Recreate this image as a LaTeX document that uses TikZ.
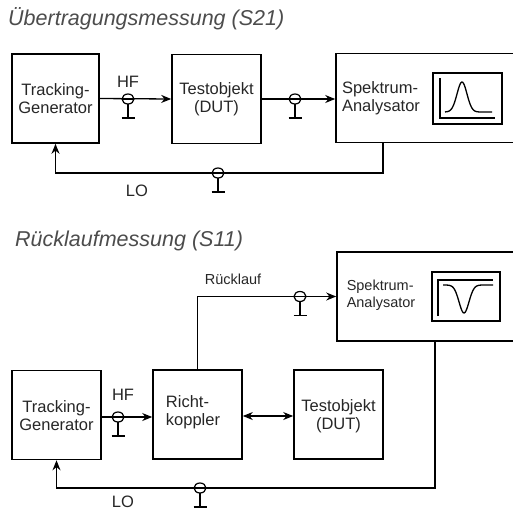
\documentclass[tikz,border=0pt]{standalone}
\usepackage{fontspec}
\setmainfont{Liberation Sans}
\usetikzlibrary{arrows.meta}
\tikzset{
  box/.style={draw, line width=1.6pt, minimum width=#1, minimum height=89pt, inner sep=0pt},
  lbl/.style={font=\fontsize{16.5}{18}\selectfont, align=center, inner sep=0pt, text=black!85},
  small/.style={font=\fontsize{14.5}{17}\selectfont, align=left, inner sep=0pt, text=black!85},
  ttl/.style={font=\fontsize{21.5}{24}\selectfont\itshape, anchor=west, inner sep=0pt, text=black!70},
  wire/.style={line width=1.3pt},
  arr/.style={wire, -{Stealth[length=10pt,width=8pt]}},
  darr/.style={wire, {Stealth[length=10pt,width=8pt]}-{Stealth[length=10pt,width=8pt]}},
  conn/.pic={
    \draw[line width=1.2pt, fill=white] (0,0) ellipse (6pt and 5pt);
    \draw[line width=1.2pt] (-6,0) -- (6,0);
    \draw[line width=1.2pt] (0,5) -- (0,19);
    \draw[line width=1.3pt] (-6.5,19) -- (6.5,19);
  }
}
\begin{document}
\begin{tikzpicture}[x=1pt, y=-1pt]
\useasboundingbox (0,0) rectangle (513,512);
% ---------- Upper diagram ----------
\node[ttl] (t1) at (8,19) {Übertragungsmessung (S21)};
\node[box=87pt] (trk1) at (55.5,98.5) {};
\node[lbl] (trk1t) at (55.5,99) {Tracking-\\Generator};
\node[box=89pt] (test1) at (216.5,99) {};
\node[lbl] (test1t) at (216.5,99) {Testobjekt\\(DUT)};
\node[box=180pt] (spek1) at (426,98) {};
\node[lbl, align=left] (spek1t) at (381,98) {Spektrum-\\Analysator};
\node[draw, line width=1.5pt, minimum width=69pt, minimum height=51pt, inner sep=0pt] (disp1) at (467.5,98.5) {};
\draw[line width=1.1pt] (440,78) -- (440,118) -- (495,118);
\draw[line width=1.3pt] plot[domain=445:492, samples=60, smooth] (\x, {112-30*exp(-((\x-462)/7)^2)});

\draw[arr] (trk1.east) -- (test1.west);
\pic at (128,99) {conn};
\node[lbl] (hf1) at (128,82) {HF};
\draw[arr] (test1.east) -- (spek1.west |- test1.east);
\pic at (295,99) {conn};

\coordinate (lo1) at (383,173);
\draw[arr] (spek1.south -| lo1) -- (lo1) -| (trk1.south);
\pic at (218,173) {conn};
\node[lbl] (lo1t) at (137,191) {LO};

% ---------- Lower diagram ----------
\node[ttl] (t2) at (15,241) {Rücklaufmessung (S11)};
\node[box=180pt] (spek2) at (427,296.5) {};
\node[small] (spek2t) at (381,295) {Spektrum-\\Analysator};
\node[draw, line width=1.5pt, minimum width=68pt, minimum height=49pt, inner sep=0pt] (disp2) at (466,296.5) {};
\draw[line width=1.1pt] (438,316) -- (438,280) -- (493,280);
\draw[line width=1.3pt] plot[domain=443:493, samples=60, smooth] (\x, {285+28*exp(-((\x-464)/7)^2)});

\node[box=89pt] (trk2) at (56.5,415) {};
\node[lbl] (trk2t) at (56.5,416) {Tracking-\\Generator};
\node[box=89pt] (rk) at (197.5,414.5) {};
\node[lbl, align=left] (rkt) at (193,412) {Richt-\\koppler};
\node[box=89pt] (test2) at (338.5,414.5) {};
\node[lbl] (test2t) at (338.5,416) {Testobjekt\\(DUT)};

\draw[arr] (trk2.east |- 0,417) -- (rk.west |- 0,417);
\pic at (118,417) {conn};
\node[lbl] (hf2) at (123,395) {HF};
\draw[darr] (rk.east |- 0,416) -- (test2.west |- 0,416);

\draw[arr] (rk.north) |- (spek2.west);
\pic at (300,296.5) {conn};
\node[small] (rl) at (233,279) {Rücklauf};

\coordinate (lo2) at (435,488);
\draw[arr] (spek2.south -| lo2) -- (lo2) -| (trk2.south);
\pic at (200,488) {conn};
\node[lbl] (lo2t) at (123,502) {LO};
\end{tikzpicture}
\end{document}
